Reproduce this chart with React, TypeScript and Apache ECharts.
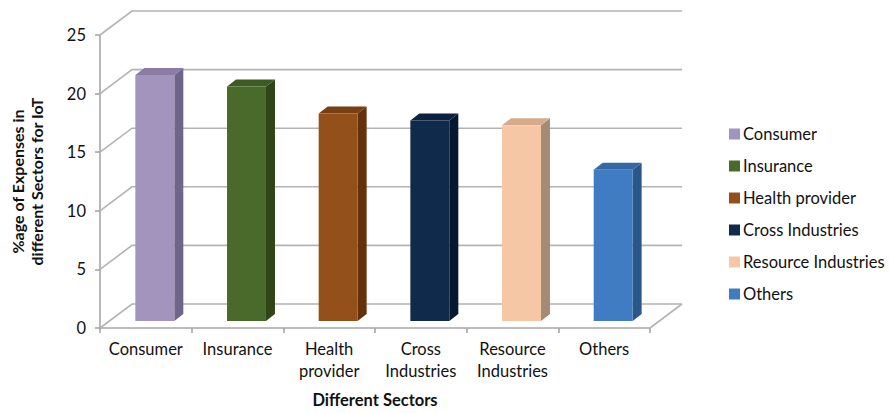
import React, { useEffect, useRef } from "react";
import * as echarts from "echarts";

const categories = ["Consumer", "Insurance", "Health\nprovider", "Cross\nIndustries", "Resource\nIndustries", "Others"];
const seriesNames = ["Consumer", "Insurance", "Health provider", "Cross Industries", "Resource Industries", "Others"];
const values = [21.0, 20.0, 17.7, 17.1, 16.7, 12.9];
const yTicks = [0, 5, 10, 15, 20, 25];
const frontColors = ["#a394bd", "#4a6a2b", "#94501b", "#102a4c", "#f5c7a4", "#3f7cc1"];
const sideColors = ["#6f6588", "#2e4617", "#653108", "#061830", "#a58a75", "#2a5788"];
const topColors = ["#8a7ca5", "#3c5a22", "#7a3f10", "#0b2240", "#d6ab8b", "#3568a6"];

const FONT = "Lato";
const WALL_DX = 32;
const WALL_DY = -24;
const BAR_OFF_X = 9;
const BAR_OFF_Y = -7;
const BAR_DX = 9;
const BAR_DY = -7;

export default function App() {
  const ref = useRef<HTMLDivElement>(null);
  useEffect(() => {
    if (!ref.current) return;
    const chart = echarts.init(ref.current, undefined, { renderer: "svg" });

    const gridSeries = {
      type: "custom",
      name: "grid-walls",
      z: 1,
      silent: true,
      data: yTicks.map((v) => [0, v]),
      renderItem: (params: any, api: any) => {
        const cs = params.coordSys;
        const left = cs.x;
        const right = cs.x + cs.width;
        const y = api.coord([0, api.value(1)])[1];
        const children: any[] = [
          {
            type: "polyline",
            shape: {
              points: [
                [left, y],
                [left + WALL_DX, y + WALL_DY],
                [right + WALL_DX, y + WALL_DY],
              ],
            },
            style: { stroke: "#b3b3b3", lineWidth: 1.6, fill: null },
          },
        ];
        if (api.value(1) === 0) {
          children.push({
            type: "line",
            shape: { x1: right, y1: y, x2: right + WALL_DX, y2: y + WALL_DY },
            style: { stroke: "#b3b3b3", lineWidth: 1.6 },
          });
        }
        return { type: "group", children };
      },
    };

    const barSeries = seriesNames.map((name, i) => ({
      type: "custom",
      name,
      z: 3,
      itemStyle: { color: frontColors[i] },
      encode: { x: 0, y: 1 },
      data: [[i, values[i]]],
      renderItem: (params: any, api: any) => {
        const idx = api.value(0);
        const val = api.value(1);
        const base = api.coord([idx, 0]);
        const top = api.coord([idx, val]);
        const bw = api.size([1, 0])[0] * 0.425;
        const cx = base[0] + BAR_OFF_X;
        const x0 = cx - bw / 2;
        const x1 = cx + bw / 2;
        const yb = base[1] + BAR_OFF_Y;
        const yt = top[1] + BAR_OFF_Y;
        return {
          type: "group",
          children: [
            {
              type: "polygon",
              shape: { points: [[x1, yt], [x1 + BAR_DX, yt + BAR_DY], [x1 + BAR_DX, yb + BAR_DY], [x1, yb]] },
              style: { fill: sideColors[i] },
            },
            {
              type: "polygon",
              shape: { points: [[x0, yt], [x0 + BAR_DX, yt + BAR_DY], [x1 + BAR_DX, yt + BAR_DY], [x1, yt]] },
              style: { fill: topColors[i] },
            },
            {
              type: "rect",
              shape: { x: x0, y: yt, width: bw, height: yb - yt },
              style: { fill: frontColors[i] },
            },
          ],
        };
      },
    }));

    chart.setOption({
      animation: false,
      backgroundColor: "#ffffff",
      grid: { left: 99, top: 35, right: 239, bottom: 80, containLabel: false },
      legend: {
        orient: "vertical",
        left: 724,
        top: 119,
        data: seriesNames,
        icon: "rect",
        itemWidth: 11,
        itemHeight: 11,
        itemGap: 12,
        textStyle: { fontFamily: FONT, fontSize: 16.5, color: "#111", lineHeight: 20, padding: [0, 0, 0, -2] },
        selectedMode: false,
      },
      xAxis: {
        type: "category",
        data: categories,
        boundaryGap: true,
        axisLine: { show: true, lineStyle: { color: "#a6a6a6", width: 1.6 } },
        axisTick: { show: true, length: 5, lineStyle: { color: "#a6a6a6", width: 1.6 } },
        axisLabel: { margin: 10, fontFamily: FONT, fontSize: 16.5, color: "#111", lineHeight: 22, interval: 0 },
        splitLine: { show: false },
        name: "Different Sectors",
        nameLocation: "middle",
        nameGap: 63,
        nameTextStyle: { fontFamily: FONT, fontSize: 16.5, fontWeight: "bold", color: "#111" },
      },
      yAxis: {
        type: "value",
        min: 0,
        max: 25,
        interval: 5,
        axisLine: { show: true, lineStyle: { color: "#a6a6a6", width: 1.6 } },
        axisTick: { show: true, length: 5, lineStyle: { color: "#a6a6a6", width: 1.6 } },
        axisLabel: { margin: 14, fontFamily: FONT, fontSize: 16.5, color: "#111" },
        splitLine: { show: false },
        name: "%age of Expenses in\ndifferent Sectors for IoT",
        nameLocation: "middle",
        nameRotate: 90,
        nameGap: 54,
        nameTextStyle: { fontFamily: FONT, fontSize: 16, fontWeight: "bold", color: "#111", lineHeight: 19 },
      },
      series: [gridSeries, ...barSeries],
    });
    return () => chart.dispose();
  }, []);
  return <div ref={ref} style={{ width: 889, height: 413, position: "absolute", left: 0, top: 0 }} />;
}
